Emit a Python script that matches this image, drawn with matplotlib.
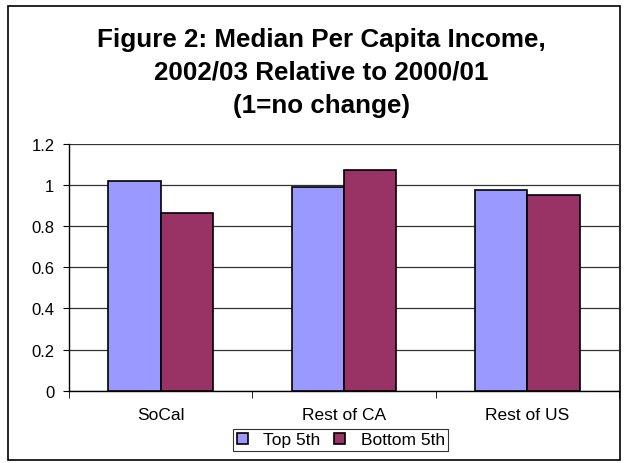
import matplotlib
matplotlib.use("Agg")
import matplotlib.pyplot as plt
import matplotlib as mpl
import numpy as np

plt.rcParams['font.family'] = ['Liberation Sans', 'DejaVu Sans']

categories = ["SoCal", "Rest of CA", "Rest of US"]
series_names = ["Top 5th", "Bottom 5th"]
top_5th = [1.018, 0.989, 0.977]
bottom_5th = [0.864, 1.074, 0.950]
yticks = [0, 0.2, 0.4, 0.6, 0.8, 1, 1.2]
ytick_labels = ["0", "0.2", "0.4", "0.6", "0.8", "1", "1.2"]
colors = ["#9999FF", "#993366"]

fig = plt.figure(figsize=(6.31, 4.64), dpi=100)
ax = fig.add_axes([0.1094, 0.1558, 0.8716, 0.532])

# outer chart frame
frame = mpl.patches.Rectangle((0.0127, 0.0065), 0.97, 0.978, transform=fig.transFigure,
                              fill=False, edgecolor="black", linewidth=1.2)
fig.patches.append(frame)

x = np.arange(len(categories))
w = 1 / 3.5
ax.bar(x - w / 2, top_5th, w, color=colors[0], edgecolor="black", linewidth=1.2,
       label=series_names[0], zorder=3)
ax.bar(x + w / 2, bottom_5th, w, color=colors[1], edgecolor="black", linewidth=1.2,
       label=series_names[1], zorder=3)

ax.set_xlim(-0.5, len(categories) - 0.5)
ax.set_ylim(0, 1.2)
ax.set_yticks(yticks)
ax.set_yticklabels(ytick_labels, fontsize=12)
ax.set_xticks(x)
ax.set_xticklabels(categories, fontsize=12.5)
ax.tick_params(axis='x', which='major', length=0, pad=12)
ax.set_xticks(np.arange(len(categories) + 1) - 0.5, minor=True)
ax.tick_params(axis='x', which='minor', length=5, direction='out')
ax.tick_params(axis='y', length=4.5, direction='out', pad=6)
ax.yaxis.grid(True, color="#333333", linewidth=0.9, zorder=0)
for side in ["top", "right"]:
    ax.spines[side].set_visible(False)
ax.spines["left"].set_linewidth(1.0)
ax.spines["bottom"].set_linewidth(1.0)

fig.text(0.509, 0.843, "Figure 2: Median Per Capita Income,\n2002/03 Relative to 2000/01\n(1=no change)",
         ha="center", va="center", fontsize=18.7, fontweight="bold", linespacing=1.48)

leg = fig.legend(loc="lower center", bbox_to_anchor=(0.5404, 0.0065), ncol=2, fontsize=12.5,
                 frameon=True, fancybox=False, handlelength=0.6, handleheight=0.6,
                 handletextpad=0.9, columnspacing=0.8, borderpad=0.22)
leg.get_frame().set_edgecolor("black")
leg.get_frame().set_linewidth(0.8)

fig.savefig("out.png", dpi=100)
